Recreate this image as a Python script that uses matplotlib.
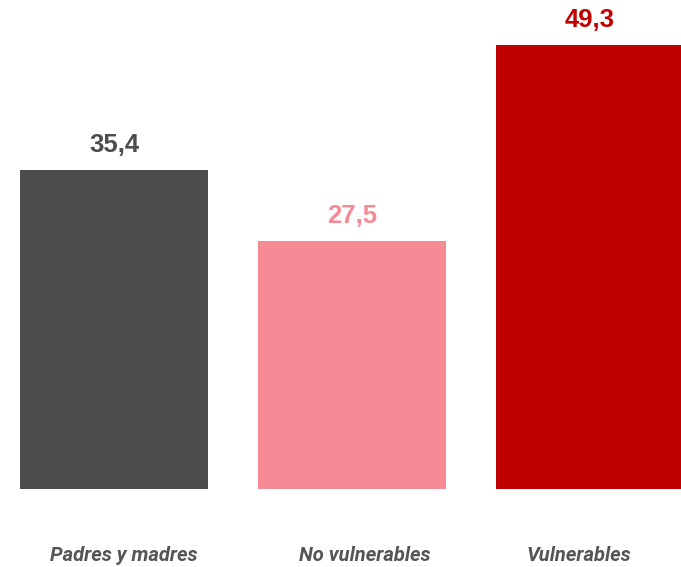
import matplotlib
matplotlib.use("Agg")
import matplotlib.pyplot as plt

# Data
categories = ["Padres y madres", "No vulnerables", "Vulnerables"]
values = [35.4, 27.5, 49.3]
colors = ["#4d4d4d", "#f58a94", "#c00000"]

fig = plt.figure(figsize=(6.81, 5.67), dpi=100)
# axes from bar baseline (y=489 px) up to the top of the figure
ax = fig.add_axes([0, 78 / 567, 1, 489 / 567])

x = list(range(len(categories)))
ax.bar(x, values, width=0.79, color=colors)

ax.set_xlim(-0.479, 2.382)
ax.set_ylim(0, 54.3)

for xi, v, c in zip(x, values, colors):
    ax.text(xi, v + 2.8, f"{v:.1f}".replace(".", ","), ha="center", va="center",
            fontsize=18.5, weight="bold", color=c, family="Liberation Sans")

# small horizontal nudges of the category labels, as in the original
label_shift = [0.042, 0.055, -0.046]
for xi, lab, dx in zip(x, categories, label_shift):
    ax.text(xi + dx, -7.4, lab, ha="center", va="center", fontsize=14.5,
            style="italic", weight="bold", color="#555555", family="Roboto",
            clip_on=False)

ax.axis("off")

fig.savefig("out.png", dpi=100)
